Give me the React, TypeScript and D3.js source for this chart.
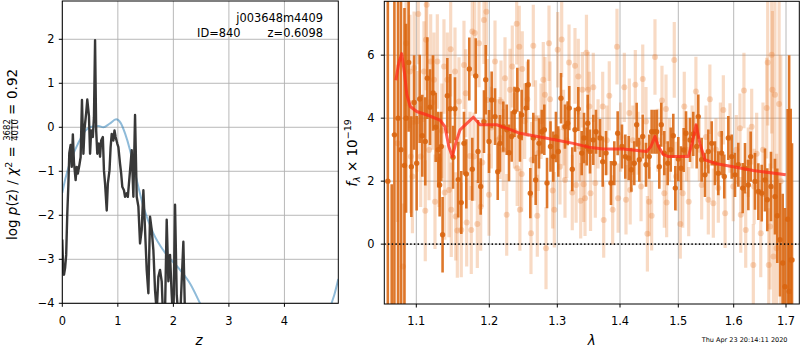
import React from "react";
import * as d3 from "d3";

// left panel: log p(z) from the fit (dark) and the prior (blue)
const zGrid = [
  0, 0.018, 0.03, 0.05, 0.07, 0.09, 0.108, 0.126, 0.15, 0.17,
  0.19, 0.21, 0.24, 0.26, 0.28, 0.31, 0.33, 0.354, 0.38, 0.4,
  0.43, 0.45, 0.48, 0.5, 0.52, 0.55, 0.57, 0.59, 0.61, 0.63,
  0.66, 0.68, 0.7, 0.73, 0.75, 0.77, 0.8, 0.82, 0.85, 0.87,
  0.89, 0.92, 0.94, 0.96, 0.99, 1.01, 1.04, 1.06, 1.08, 1.11,
  1.13, 1.16, 1.18, 1.2, 1.23, 1.25, 1.28, 1.31, 1.34, 1.37,
  1.4, 1.43, 1.46, 1.49, 1.52, 1.55, 1.58, 1.61, 1.64, 1.67,
  1.7, 1.73, 1.76, 1.79, 1.82, 1.85, 1.88, 1.91, 1.94, 1.97,
  2.0, 2.03, 2.06, 2.09, 2.13, 2.18, 2.21, 2.25, 2.3,
];
const logPz = [
  -2.55, -3.3, -3.35, -3.2, -2.9, -1.95, -1.35, -0.59, -0.4, -0.9,
  -0.16, -0.8, -1.2, -0.9, -1.05, -0.84, -0.68, 0.62, -0.6, -0.04,
  0.33, 0.63, 0.26, -0.6, -0.07, -0.22, 0.23, 1.98, -0.07, -0.6,
  -0.37, -0.67, -0.3, -0.22, -0.98, -1.28, -1.89, -1.28, -0.98, -0.45,
  -0.15, -0.3, -0.07, -0.22, -0.37, -0.45, -0.83, -1.05, -1.35, -1.43,
  -1.58, -1.5, -1.58, -1.28, -0.83, -0.52, -1.58, 0.28, -1.58, -1.8,
  -2.64, -2.33, -1.43, -2.33, -3.24, -3.77, -2.03, -2.33, -2.79, -3.7,
  -4.2, -3.4, -3.24, -3.5, -4.5, -4.2, -2.1, -3.5, -2.9, -3.8,
  -4.5, -1.76, -3.8, -4.3, -4.1, -2.6, -4.3, -6, -8,
];
const zPrior = [
  0, 0.04, 0.08, 0.14, 0.2, 0.28, 0.38, 0.48, 0.56, 0.65, 0.74, 0.85,
  0.97, 1.05, 1.13, 1.22, 1.34, 1.46, 1.64, 1.85, 2.12, 2.3, 2.48, 2.7,
  3.0, 3.5, 4.0, 4.5, 4.75, 4.85, 4.9, 4.97,
];
const logPrior = [
  -1.49, -1.25, -1.05, -0.8, -0.6, -0.38, -0.14, -0.01, 0.02, 0.03, 0.0, 0.08,
  0.18, 0.1, -0.14, -0.52, -1.2, -1.8, -2.41, -2.85, -3.24, -3.55, -4.0, -4.6,
  -5.5, -6.5, -6.5, -5.5, -4.6, -4.0, -3.8, -3.45,
];
const zTicks = [0, 1, 2, 3, 4];
const pzTicks = [-4, -3, -2, -1, 0, 1, 2];

// right panel: spectrum, model and two sets of data points
const waveTicks = [1.1, 1.2, 1.3, 1.4, 1.5, 1.6, 1.7];
const fluxTicks = [0, 2, 4, 6];

const modelWave = [
  1.072, 1.076, 1.08, 1.084, 1.087, 1.0917, 1.1005, 1.115, 1.1325, 1.1393,
  1.1445, 1.1493, 1.154, 1.1599, 1.17, 1.1781, 1.1825, 1.1873, 1.2109, 1.228,
  1.2451, 1.2746, 1.3, 1.3255, 1.35, 1.3734, 1.4057, 1.4458, 1.453, 1.46,
  1.466, 1.474, 1.4828, 1.518, 1.525, 1.532, 1.539, 1.548, 1.5693, 1.599,
  1.6375, 1.6995,
];
const modelFlux = [
  5.2, 5.75, 6.05, 5.4, 4.75, 4.37, 4.21, 4.1, 3.94, 3.73,
  3.1, 2.78, 3.2, 3.63, 3.85, 4.03, 3.92, 3.79, 3.79, 3.66,
  3.52, 3.4, 3.3, 3.2, 3.08, 3.02, 3.02, 2.94, 3.1, 3.42,
  3.1, 2.85, 2.78, 2.78, 3.2, 3.79, 3.2, 2.68, 2.55, 2.46,
  2.34, 2.2,
];

const darkWave = [
  1.061, 1.0663, 1.07, 1.075, 1.079, 1.0838, 1.086, 1.0895, 1.0932, 1.097,
  1.1005, 1.1047, 1.1082, 1.1123, 1.1151, 1.1188, 1.123, 1.1266, 1.13, 1.132,
  1.1342, 1.136, 1.1425, 1.1465, 1.1503, 1.153, 1.1575, 1.1616, 1.1653, 1.1685,
  1.1726, 1.1767, 1.1814, 1.1845, 1.1882, 1.1927, 1.1951, 1.1996, 1.2035, 1.2084,
  1.2124, 1.2157, 1.2206, 1.2256, 1.229, 1.2329, 1.237, 1.2412, 1.2451, 1.2476,
  1.254, 1.2573, 1.2603, 1.2647, 1.2682, 1.2731, 1.2771, 1.2809, 1.2849, 1.29,
  1.2941, 1.298, 1.3016, 1.3059, 1.3123, 1.3166, 1.3191, 1.3239, 1.3282, 1.3335,
  1.3389, 1.3426, 1.3469, 1.3485, 1.3522, 1.3574, 1.3617, 1.3681, 1.3724, 1.3777,
  1.3856, 1.3909, 1.3963, 1.4034, 1.4091, 1.4149, 1.4194, 1.4245, 1.4286, 1.4331,
  1.4389, 1.4446, 1.4502, 1.4543, 1.459, 1.4629, 1.4674, 1.4708, 1.476, 1.4818,
  1.487, 1.4914, 1.4949, 1.5, 1.5049, 1.5097, 1.5139, 1.5211, 1.527, 1.5332,
  1.5361, 1.5422, 1.5482, 1.5542, 1.5603, 1.5662, 1.5722, 1.5783, 1.583, 1.5903,
  1.5964, 1.6025, 1.6088, 1.6172, 1.6216, 1.628, 1.6325, 1.6407, 1.6471, 1.6536,
  1.6598, 1.6642, 1.6713, 1.6789, 1.6833, 1.6885, 1.6937, 1.698, 1.7032, 1.706,
  1.709, 1.7115,
];
const darkFlux = [
  2.0, -3.0, 3.47, 4.0, 3.0, 2.5, 4.0, 5.77, 2.46, 4.5,
  2.57, 4.61, 3.44, 3.26, 5.27, 4.35, 4.8, 3.71, 3.0, 1.88,
  3.1, 0.3, 4.71, 4.3, 2.76, 4.3, 2.05, 1.32, 3.2, 2.23,
  5.56, 2.38, 5.34, 2.94, 1.83, 3.89, 5.22, 3.26, 4.58, 4.05,
  2.3, 3.2, 3.73, 3.63, 2.9, 3.42, 4.2, 4.9, 3.42, 4.1,
  4.32, 5.06, 1.62, 3.37, 2.04, 3.2, 3.57, 3.63, 1.94, 3.1,
  2.78, 3.4, 2.94, 4.63, 3.73, 3.84, 4.32, 2.38, 3.63, 4.29,
  2.89, 3.37, 3.1, 3.84, 2.94, 3.31, 3.57, 3.37, 2.62, 2.89,
  1.94, 2.57, 3.52, 3.1, 2.78, 2.73, 2.36, 2.57, 3.79, 2.68,
  3.42, 2.52, 2.78, 3.57, 3.57, 3.57, 2.46, 3.79, 2.89, 2.57,
  3.0, 3.44, 1.78, 2.7, 2.41, 2.99, 3.52, 3.31, 3.5, 3.1,
  4.05, 2.68, 2.2, 2.94, 3.2, 2.57, 2.25, 2.89, 2.15, 3.37,
  2.78, 2.2, 2.52, 1.78, 2.41, 1.88, 2.78, 1.99, 1.67, 1.62,
  2.04, 1.41, 1.83, 1.51, 0.9, 0.14, -0.6, -1.35, 0.79, -1.5,
  -0.5, -0.5,
];
const darkErr = [
  12, 4.9, 7, 9, 9, 5, 3.0, 2.2, 1.6, 1.5,
  1.5, 1.4, 1.3, 1.4, 1.3, 1.2, 1.2, 1.1, 1.2, 1.0,
  1.1, 1.2, 1.2, 1.1, 1.0, 1.0, 1.2, 1.0, 1.0, 1.1,
  1.0, 1.0, 1.2, 1.0, 0.9, 1.0, 1.1, 1.0, 0.9, 0.9,
  0.9, 0.9, 0.8, 0.8, 0.9, 0.8, 0.8, 0.7, 0.8, 0.8,
  0.8, 0.8, 0.8, 0.8, 0.8, 0.8, 0.7, 0.8, 0.8, 0.8,
  0.8, 0.8, 0.8, 0.8, 0.7, 0.7, 0.7, 0.7, 0.7, 0.7,
  0.7, 0.8, 0.6, 0.9, 0.7, 0.8, 0.7, 0.6, 0.8, 0.7,
  0.7, 0.7, 0.7, 0.7, 0.7, 0.7, 0.7, 0.7, 0.7, 0.7,
  0.7, 0.7, 0.7, 0.7, 0.7, 0.7, 0.7, 0.7, 0.7, 0.7,
  0.7, 0.7, 0.7, 0.7, 0.7, 0.7, 0.7, 0.7, 0.7, 0.7,
  0.7, 0.7, 0.7, 0.7, 0.7, 0.7, 0.7, 0.7, 0.7, 0.7,
  0.7, 0.7, 0.7, 0.8, 0.8, 0.8, 0.8, 0.9, 0.9, 0.9,
  1.0, 1.0, 1.1, 1.2, 1.5, 1.8, 2.2, 2.5, 3.5, 7.5,
  4.8, 3.7,
];

const lightWave = [
  1.0742, 1.0816, 1.086, 1.0913, 1.0926, 1.0947, 1.097, 1.101, 1.1027, 1.106,
  1.1105, 1.1123, 1.1133, 1.1142, 1.1174, 1.1197, 1.122, 1.1242, 1.1256, 1.1288,
  1.1311, 1.135, 1.1379, 1.1389, 1.1425, 1.1448, 1.1471, 1.1479, 1.153, 1.154,
  1.1562, 1.1585, 1.1616, 1.1653, 1.1677, 1.169, 1.1736, 1.1753, 1.1767, 1.179,
  1.18, 1.1836, 1.1859, 1.1882, 1.1904, 1.1927, 1.196, 1.1973, 1.1996, 1.203,
  1.2084, 1.212, 1.2157, 1.2172, 1.2206, 1.2231, 1.2256, 1.2304, 1.2338, 1.237,
  1.2403, 1.241, 1.2441, 1.245, 1.2476, 1.2485, 1.252, 1.256, 1.2613, 1.2623,
  1.2647, 1.268, 1.2706, 1.2721, 1.276, 1.2794, 1.2819, 1.2834, 1.2878, 1.2893,
  1.2932, 1.2956, 1.3006, 1.3043, 1.307, 1.31, 1.3123, 1.315, 1.3187, 1.3239,
  1.3282, 1.33, 1.3335, 1.3355, 1.3373, 1.34, 1.342, 1.3442, 1.3465, 1.349,
  1.3511, 1.353, 1.3574, 1.3606, 1.365, 1.3724, 1.374, 1.379, 1.3829, 1.3883,
  1.3952, 1.397, 1.401, 1.4074, 1.4103, 1.416, 1.4175, 1.422, 1.4263, 1.431,
  1.4361, 1.439, 1.4446, 1.447, 1.45, 1.4543, 1.46, 1.465, 1.472, 1.476,
  1.4789, 1.48, 1.485, 1.4931, 1.4961, 1.5036, 1.508, 1.5108, 1.515, 1.5188,
  1.525, 1.5318, 1.538, 1.5422, 1.55, 1.5542, 1.557, 1.5632, 1.568, 1.5722,
  1.576, 1.5813, 1.5845, 1.5933, 1.5992, 1.605, 1.612, 1.6135, 1.6196, 1.623,
  1.628, 1.6344, 1.6375, 1.639, 1.6439, 1.6517, 1.656, 1.6631, 1.665, 1.667,
  1.6695, 1.6726, 1.674, 1.676, 1.6789, 1.682, 1.6868, 1.69,
];
const lightFlux = [
  3.2, -0.71, 6.38, 5.48, 2.78, 2.15, 5.59, 3.9, 7.31, 2.78,
  5.48, 1.06, 6.49, 7.6, 2.99, 5.8, 4.5, 5.22, 1.35, 5.8,
  2.68, 3.6, 5.64, 1.64, 5.22, 1.72, 6.19, 1.09, 5.48, 0.88,
  0.43, 4.53, 0.45, 5.69, 4.79, 0.69, 2.8, 0.45, 6.75, 2.78,
  6.7, 0.64, 6.38, 1.19, 2.59, 7.12, 7.38, 4.58, 1.57, 3.7,
  5.8, 3.3, 3.37, 4.53, 2.99, 5.27, 0.93, 4.9, 5.64, 3.6,
  7.0, 2.41, 6.27, 1.09, 2.23, 5.56, 3.9, 4.6, 0.35, 2.68,
  6.3, 4.0, 0.9, 2.89, 3.9, 5.22, 4.74, -0.13, 6.38, 4.6,
  1.7, 1.09, 6.17, 2.46, 6.5, 3.7, 2.04, 3.3, 5.77, 1.64,
  5.66, 1.88, 5.32, 3.1, 1.38, 4.9, 1.9, 1.46, 6.08, 4.9,
  4.37, 1.62, 4.98, 1.94, 3.5, 4.37, 0.77, 3.3, 4.71, 1.09,
  6.27, 1.46, 3.4, 4.98, 1.41, 4.16, 1.72, 3.3, 5.06, 3.2,
  1.83, 5.24, 3.89, 0.33, 1.35, 0.9, 5.94, 3.3, 4.56, 1.62,
  4.29, 1.32, 3.0, 5.85, 2.15, 0.64, 1.62, 4.37, 3.0, 1.35,
  3.4, 4.85, 3.0, 1.88, 3.4, 1.41, 4.6, 1.3, 3.0, 1.78,
  3.5, 4.26, 0.98, 3.37, 1.83, 3.0, 3.68, 0.93, 4.88, 0.45,
  2.6, 3.73, -0.66, 1.83, 2.87, 0.35, 3.0, 4.32, 5.77, -0.66,
  0.56, 6.01, 4.9, -0.39, 4.74, -0.13, 4.45, 2.0,
];
const lightErr = [
  2.5, 2.0, 2.0, 1.8, 1.8, 1.8, 1.8, 1.6, 1.6, 1.6,
  1.6, 1.6, 1.6, 1.6, 1.6, 1.5, 1.5, 1.5, 1.5, 1.5,
  1.5, 1.5, 1.5, 1.5, 1.5, 1.5, 1.5, 1.5, 1.4, 1.4,
  1.5, 1.4, 1.5, 1.4, 1.4, 1.4, 1.4, 1.4, 1.4, 1.4,
  1.4, 1.4, 1.4, 1.4, 1.4, 1.4, 1.4, 1.3, 1.3, 1.3,
  1.3, 1.3, 1.3, 1.3, 1.3, 1.3, 1.3, 1.3, 1.3, 1.2,
  1.3, 1.2, 1.3, 1.3, 1.2, 1.2, 1.2, 1.2, 1.3, 1.2,
  1.3, 1.2, 1.3, 1.2, 1.2, 1.2, 1.2, 1.3, 1.2, 1.2,
  1.2, 1.2, 1.2, 1.2, 1.2, 1.2, 1.2, 1.2, 1.2, 1.2,
  1.2, 1.2, 1.2, 1.1, 1.2, 1.2, 1.2, 1.2, 1.2, 1.2,
  1.1, 1.2, 1.1, 1.1, 1.1, 1.1, 1.2, 1.1, 1.1, 1.1,
  1.2, 1.1, 1.1, 1.1, 1.1, 1.1, 1.1, 1.1, 1.1, 1.0,
  1.1, 1.1, 1.1, 1.2, 1.1, 1.1, 1.2, 1.0, 1.1, 1.1,
  1.1, 1.1, 1.0, 1.2, 1.1, 1.1, 1.1, 1.1, 1.0, 1.1,
  1.0, 1.1, 1.0, 1.1, 1.0, 1.1, 1.1, 1.1, 1.0, 1.1,
  1.0, 1.1, 1.1, 1.1, 1.1, 1.1, 1.1, 1.2, 1.2, 1.2,
  1.1, 1.2, 1.3, 1.2, 1.3, 1.4, 1.5, 1.6, 2.0, 1.8,
  2.0, 2.5, 2.5, 2.2, 3.0, 3.0, 3.5, 4.0,
];

const FONT = "DejaVu Sans";
const GRID = "#b0b0b0";
const DARK = "#d9650f";
const LIGHT = "#e8843a";

const fmt = (v: number) => String(v).replace("-", "\u2212");

export default function App() {
  // panel boxes
  const L = { x0: 62.3, x1: 338.3, y0: 1, y1: 303.3 };
  const R = { x0: 384.3, x1: 799.3, y0: 1.3, y1: 304 };

  const zx = d3.scaleLinear().domain([0, 4.97]).range([L.x0, L.x1]);
  const zy = d3.scaleLinear().domain([-4, 2.87]).range([L.y1, L.y0]);
  const wx = d3
    .scaleLinear()
    .domain(waveTicks)
    .range([416.3, 489.3, 557.3, 620, 678.3, 733.7, 786]);
  const fy = d3.scaleLinear().domain([-1.9, 7.71]).range([R.y1, R.y0]);

  const pzLine = d3
    .line<number>()
    .x((d, i) => zx(zGrid[i]))
    .y((d) => zy(d));
  const priorLine = d3
    .line<number>()
    .x((d, i) => zx(zPrior[i]))
    .y((d) => zy(d))
    .curve(d3.curveMonotoneX);
  const modelLine = d3
    .line<number>()
    .x((d, i) => wx(modelWave[i]))
    .y((d) => fy(d));

  return (
    <svg
      width={800}
      height={350}
      style={{ position: "absolute", left: 0, top: 0, background: "#fff" }}
      fontFamily={FONT}
    >
      <defs>
        <clipPath id="clipL">
          <rect x={L.x0} y={L.y0} width={L.x1 - L.x0} height={L.y1 - L.y0} />
        </clipPath>
        <clipPath id="clipR">
          <rect x={R.x0} y={R.y0} width={R.x1 - R.x0} height={R.y1 - R.y0} />
        </clipPath>
      </defs>

      {/* ---------- left panel ---------- */}
      <g>
        {zTicks.map((t) => (
          <line key={"zg" + t} x1={zx(t)} x2={zx(t)} y1={L.y0} y2={L.y1} stroke={GRID} strokeWidth={0.9} />
        ))}
        {pzTicks.map((t) => (
          <line key={"pg" + t} x1={L.x0} x2={L.x1} y1={zy(t)} y2={zy(t)} stroke={GRID} strokeWidth={0.9} />
        ))}
        <g clipPath="url(#clipL)">
          <path d={priorLine(logPrior) || ""} fill="none" stroke="#1f77b4" strokeOpacity={0.5} strokeWidth={2} />
          <path d={pzLine(logPz) || ""} fill="none" stroke="#383838" strokeWidth={2.4} strokeLinejoin="round" />
        </g>
        <rect x={L.x0} y={L.y0} width={L.x1 - L.x0} height={L.y1 - L.y0} fill="none" stroke="#000" strokeWidth={1} />
        {zTicks.map((t) => (
          <g key={"zt" + t}>
            <line x1={zx(t)} x2={zx(t)} y1={L.y1} y2={L.y1 + 3.5} stroke="#000" />
            <text x={zx(t)} y={325} fontSize={11.4} textAnchor="middle">{fmt(t)}</text>
          </g>
        ))}
        {pzTicks.map((t) => (
          <g key={"pt" + t}>
            <line x1={L.x0 - 3.5} x2={L.x0} y1={zy(t)} y2={zy(t)} stroke="#000" />
            <text x={54.5} y={zy(t) + 4.1} fontSize={11.4} textAnchor="end">{fmt(t)}</text>
          </g>
        ))}
        <text x={323} y={22} fontSize={11.4} textAnchor="end">j003648m4409</text>
        <text x={240.5} y={36.5} fontSize={11.4} textAnchor="end">ID=840</text>
        <text x={323} y={36.5} fontSize={11.4} textAnchor="end">z=0.6098</text>
        <text x={199} y={345} fontSize={13.5} fontStyle="italic" textAnchor="middle">z</text>
        <g transform="translate(16.5,240) rotate(-90)" fontSize={13.5}>
          <text x={0} y={0}>
            log <tspan fontStyle="italic">p</tspan>(z) / <tspan fontStyle="italic">χ</tspan>
            <tspan fontSize={9.5} dy={-5}>2</tspan>
            <tspan dy={5}> =</tspan>
          </text>
          <text x={110} y={-6.3} fontSize={8.5} textAnchor="middle">3682</text>
          <line x1={99} x2={121} y1={-4.6} y2={-4.6} stroke="#000" strokeWidth={0.7} />
          <text x={110} y={1.6} fontSize={8.5} textAnchor="middle">4010</text>
          <text x={125} y={0}>=</text>
          <text x={141} y={0}>0.92</text>
        </g>
      </g>

      {/* ---------- right panel ---------- */}
      <g>
        {waveTicks.map((t) => (
          <line key={"wg" + t} x1={wx(t)} x2={wx(t)} y1={R.y0} y2={R.y1} stroke={GRID} strokeWidth={0.9} />
        ))}
        {fluxTicks.map((t) => (
          <line key={"fg" + t} x1={R.x0} x2={R.x1} y1={fy(t)} y2={fy(t)} stroke={GRID} strokeWidth={0.9} />
        ))}
        <g clipPath="url(#clipR)">
          <g stroke={LIGHT} strokeOpacity={0.3} strokeWidth={3.2}>
            {lightWave.map((w, i) => (
              <line key={"le" + i} x1={wx(w)} x2={wx(w)} y1={fy(lightFlux[i] - lightErr[i])} y2={fy(lightFlux[i] + lightErr[i])} />
            ))}
          </g>
          <g fill={LIGHT} fillOpacity={0.32}>
            {lightWave.map((w, i) => (
              <circle key={"lp" + i} cx={wx(w)} cy={fy(lightFlux[i])} r={3} />
            ))}
          </g>
          <g stroke={DARK} strokeOpacity={0.88} strokeWidth={2.6}>
            {darkWave.map((w, i) => (
              <line key={"de" + i} x1={wx(w)} x2={wx(w)} y1={fy(darkFlux[i] - darkErr[i])} y2={fy(darkFlux[i] + darkErr[i])} />
            ))}
          </g>
          <g fill={DARK} fillOpacity={0.9}>
            {darkWave.map((w, i) => (
              <circle key={"dp" + i} cx={wx(w)} cy={fy(darkFlux[i])} r={2.7} />
            ))}
          </g>
          <path d={modelLine(modelFlux) || ""} fill="none" stroke="#ff2a1a" strokeOpacity={0.75} strokeWidth={3} strokeLinejoin="round" />
          <line x1={R.x0} x2={R.x1} y1={fy(0)} y2={fy(0)} stroke="#111" strokeWidth={1.6} strokeDasharray="1.4,2.3" />
        </g>
        <rect x={R.x0} y={R.y0} width={R.x1 - R.x0} height={R.y1 - R.y0} fill="none" stroke="#000" strokeWidth={1} />
        {waveTicks.map((t) => (
          <g key={"wt" + t}>
            <line x1={wx(t)} x2={wx(t)} y1={R.y1} y2={R.y1 + 3.5} stroke="#000" />
            <text x={wx(t)} y={325} fontSize={11.4} textAnchor="middle">{t.toFixed(1)}</text>
          </g>
        ))}
        {fluxTicks.map((t) => (
          <g key={"ft" + t}>
            <line x1={R.x0 - 3.5} x2={R.x0} y1={fy(t)} y2={fy(t)} stroke="#000" />
            <text x={374.5} y={fy(t) + 4.1} fontSize={11.4} textAnchor="end">{fmt(t)}</text>
          </g>
        ))}
        <text x={591.7} y={345} fontSize={13.5} fontStyle="italic" textAnchor="middle">λ</text>
        <g transform="translate(356.5,153) rotate(-90)" fontSize={13.5}>
          <text x={0} y={0} textAnchor="middle">
            <tspan fontStyle="italic">f</tspan>
            <tspan fontSize={9.5} fontStyle="italic" dy={3}>λ</tspan>
            <tspan dy={-3}> × 10</tspan>
            <tspan fontSize={9.5} dy={-5.5}>−19</tspan>
          </text>
        </g>
        <text x={787.5} y={342} fontSize={6.5} textAnchor="end">Thu Apr 23 20:14:11 2020</text>
      </g>
    </svg>
  );
}
